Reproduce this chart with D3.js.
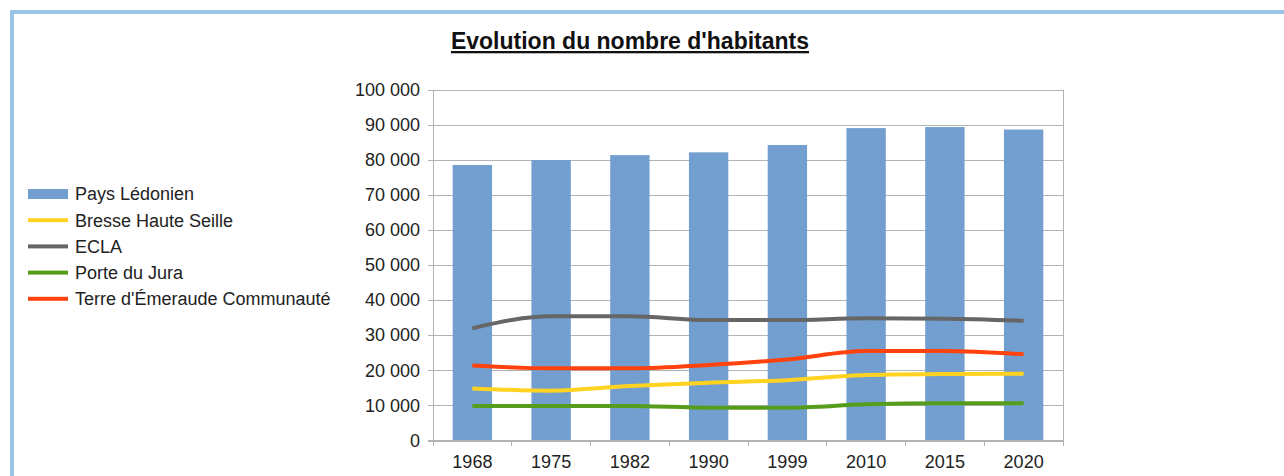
<!DOCTYPE html>
<html>
<head>
<meta charset="utf-8">
<title>Evolution du nombre d'habitants</title>
<script src="https://d3js.org/d3.v7.min.js"></script>
<style>
  body { margin: 0; background: #fff; }
  svg { font-family: "Liberation Sans", Arial, sans-serif; }
  .grid line { stroke: #b3b3b3; stroke-width: 1px; shape-rendering: crispEdges; }
  .grid path { display: none; }
  .axis path, .axis line { stroke: #b3b3b3; shape-rendering: crispEdges; }
  .axis text { fill: #222; font-size: 18px; }
  .series { fill: none; stroke-width: 4px; stroke-linejoin: round; }
  .legend text { font-size: 18px; fill: #222; }
</style>
</head>
<body>
<svg width="1284" height="476"></svg>
<script>
const years = ["1968", "1975", "1982", "1990", "1999", "2010", "2015", "2020"];
const paysLedonien = [78500, 79900, 81300, 82100, 84200, 89000, 89300, 88600];
const bresseHauteSeille = [14850, 14200, 15500, 16450, 17200, 18650, 18950, 19000];
const ecla = [32000, 35400, 35400, 34300, 34300, 34800, 34700, 34100];
const porteDuJura = [9830, 9830, 9830, 9350, 9350, 10300, 10600, 10600];
const terreEmeraude = [21400, 20550, 20550, 21500, 23100, 25500, 25500, 24550];
const yTicks = [0, 10000, 20000, 30000, 40000, 50000, 60000, 70000, 80000, 90000, 100000];

const lines = [
  { name: "Bresse Haute Seille", values: bresseHauteSeille, color: "#ffd320" },
  { name: "ECLA", values: ecla, color: "#666666" },
  { name: "Porte du Jura", values: porteDuJura, color: "#579d1c" },
  { name: "Terre d'Émeraude Communauté", values: terreEmeraude, color: "#ff420e" }
];
const barColor = "#729fcf";

const svg = d3.select("svg");

// cadre bleu clair
svg.append("path")
  .attr("d", "M12,480 L12,12 L1290,12")
  .attr("fill", "none")
  .attr("stroke", "#9dc3e6")
  .attr("stroke-width", 4);

const plot = { left: 433, right: 1063, top: 89.5, bottom: 440.5 };

const x = d3.scaleBand().domain(years).range([plot.left, plot.right]);
const y = d3.scaleLinear().domain([0, 100000]).range([plot.bottom, plot.top]);

const fr = d3.formatLocale({ decimal: ",", thousands: "\u00a0", grouping: [3], currency: ["", " €"] });
const fmt = fr.format(",d");

// grille
svg.append("g")
  .attr("class", "grid")
  .attr("transform", `translate(${plot.left},0)`)
  .call(d3.axisLeft(y).tickValues(yTicks).tickSize(-(plot.right - plot.left)).tickFormat(""));

// bord droit de la zone
svg.append("line")
  .attr("x1", plot.right).attr("x2", plot.right)
  .attr("y1", y(100000)).attr("y2", y(0))
  .attr("stroke", "#b3b3b3")
  .attr("shape-rendering", "crispEdges");

// barres
svg.append("g").selectAll("rect")
  .data(years)
  .join("rect")
  .attr("x", d => x(d) + x.bandwidth() * 0.25)
  .attr("width", x.bandwidth() * 0.5)
  .attr("y", (d, i) => y(paysLedonien[i]))
  .attr("height", (d, i) => y(0) - y(paysLedonien[i]))
  .attr("fill", barColor);

// axes
svg.append("g")
  .attr("class", "axis")
  .attr("transform", `translate(${plot.left},0)`)
  .call(d3.axisLeft(y).tickValues(yTicks).tickSize(5).tickPadding(8).tickFormat(fmt));

const xAxis = svg.append("g")
  .attr("class", "axis")
  .attr("transform", `translate(0,${plot.bottom})`)
  .call(d3.axisBottom(x).tickSize(0).tickPadding(15));
xAxis.select(".domain").remove();
xAxis.append("line")
  .attr("x1", plot.left - 5).attr("x2", plot.right)
  .attr("stroke", "#b3b3b3");
xAxis.selectAll(".sep")
  .data(years.concat(["end"]))
  .join("line")
  .attr("class", "sep")
  .attr("x1", (d, i) => plot.left + i * x.step())
  .attr("x2", (d, i) => plot.left + i * x.step())
  .attr("y1", 0).attr("y2", 5)
  .attr("stroke", "#b3b3b3");

// courbes
const line = d3.line()
  .x((d, i) => x(years[i]) + x.bandwidth() / 2)
  .y(d => y(d))
  .curve(d3.curveMonotoneX);

svg.append("g").selectAll("path")
  .data(lines)
  .join("path")
  .attr("class", "series")
  .attr("d", d => line(d.values))
  .attr("stroke", d => d.color);

// titre
svg.append("text")
  .attr("x", 630)
  .attr("y", 49)
  .attr("text-anchor", "middle")
  .style("font-size", "23px")
  .style("font-weight", "bold")
  .style("text-decoration", "underline")
  .attr("fill", "#111")
  .text("Evolution du nombre d'habitants");

// légende
const legendItems = [{ name: "Pays Lédonien", color: barColor, bar: true }].concat(lines);
const legend = svg.append("g")
  .attr("class", "legend")
  .selectAll("g")
  .data(legendItems)
  .join("g")
  .attr("transform", (d, i) => `translate(28,${194 + i * 26.2})`);

legend.append("rect")
  .attr("x", 0)
  .attr("width", 40)
  .attr("y", d => d.bar ? -5 : -2)
  .attr("height", d => d.bar ? 10 : 4)
  .attr("fill", d => d.color);

legend.append("text")
  .attr("x", 47)
  .attr("y", 0)
  .attr("dy", "0.35em")
  .text(d => d.name);
</script>
</body>
</html>
